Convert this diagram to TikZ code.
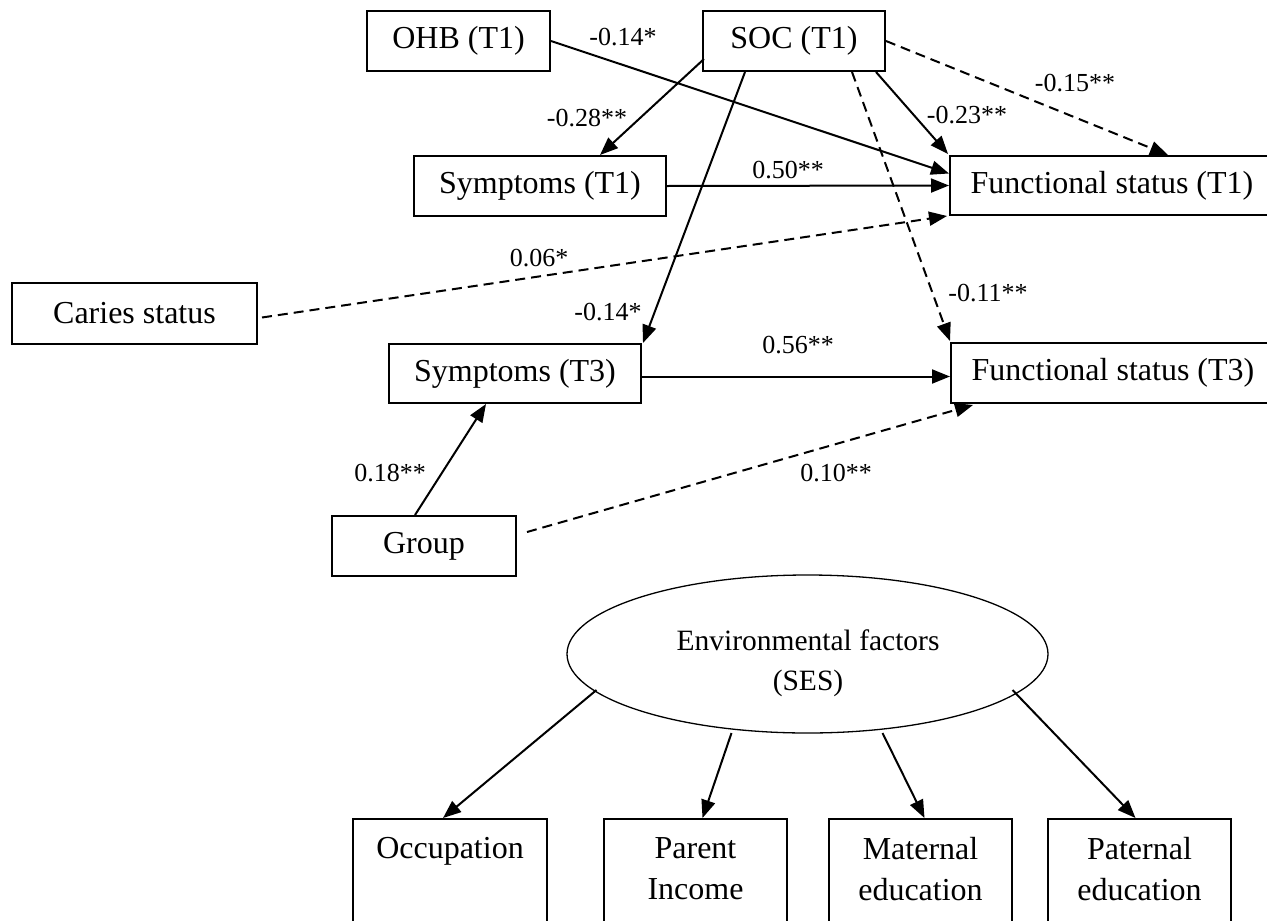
\documentclass[tikz,border=0pt]{standalone}
\usepackage{fontspec}
\setmainfont{Liberation Serif}
\usetikzlibrary{arrows.meta,calc,shapes.geometric}
\tikzset{
  box/.style={draw, line width=2pt, minimum height=60pt, inner sep=0pt, font=\fontsize{32}{38}\selectfont},
  bbox/.style={draw, line width=2pt, minimum height=150pt, inner sep=0pt},
  btext/.style={inner sep=0pt, align=center, font=\fontsize{32}{41}\selectfont},
  lbl/.style={inner sep=0pt, font=\fontsize{26}{30}\selectfont},
  arr/.style={line width=2pt, -{Triangle[length=18pt,width=14pt]}},
  dsh/.style={arr, dash pattern=on 10pt off 6pt},
}
\begin{document}
\begin{tikzpicture}[x=1pt,y=-1pt]
\clip (0,0) rectangle (1267,921);
\fill[white] (0,0) rectangle (1267,921);
% nodes
\node[box, minimum width=183pt] (ohb) at (458.5,41) {OHB (T1)};
\node[box, minimum width=182pt] (soc) at (794,41) {SOC (T1)};
\node[box, minimum width=252pt] (symT1) at (540,186) {Symptoms (T1)};
\node[box, minimum width=324pt, minimum height=59pt] (fsT1) at (1112,185.5) {Functional status (T1)};
\node[box, minimum width=245pt, minimum height=61pt] (caries) at (134.5,313.5) {Caries status};
\node[box, minimum width=252pt, minimum height=59pt] (symT3) at (515,373.5) {Symptoms (T3)};
\node[box, minimum width=324pt] (fsT3) at (1113,373) {Functional status (T3)};
\node[box, minimum width=184pt] (group) at (424,546) {Group};
\node[draw, ellipse, line width=1.3pt, minimum width=481pt, minimum height=158pt, inner sep=0pt] (ses) at (807.5,654) {};
\node[inner sep=0pt, font=\fontsize{29.5}{40}\selectfont, align=center] (sesT) at (808,663) {Environmental factors\\(SES)};
\node[bbox, minimum width=194pt] (occ) at (450,894) {};
\node[bbox, minimum width=183pt] (par) at (695.5,894) {};
\node[bbox, minimum width=183pt] (mat) at (920.5,894) {};
\node[bbox, minimum width=183pt] (pat) at (1139.5,894) {};
\node[btext] (occT) at ($(occ.north)+(0,33)$) {Occupation};
\node[btext] (parT) at ($(par.north)+(0,51)$) {Parent\\Income};
\node[btext] (matT) at ($(mat.north)+(0,51)$) {Maternal\\education};
\node[btext] (patT) at ($(pat.north)+(0,51)$) {Paternal\\education};
% connectors
\draw[arr] (ohb.east) -- ($(fsT1.west)+(0,-12)$);
\draw[arr] ($(soc.west)+(2,18)$) -- ($(symT1.north)+(60,0)$);
\draw[arr] ($(soc.south)+(-49,0)$) -- ($(symT3.north east)+(1,0)$);
\draw[arr] ($(soc.south east)+(-10,0)$) -- ($(fsT1.north west)+(-1,-1)$);
\draw[dsh] (soc.east) -- ($(fsT1.north)+(56,0)$);
\draw[dsh] ($(soc.south)+(58,0)$) -- ($(fsT3.north west)+(0,-1)$);
\draw[arr] (symT1.east) -- (fsT1.west);
\draw[dsh] ($(caries.east)+(4,4)$) -- ($(fsT1.south west)+(-2,0)$);
\draw[arr] ($(symT3.east)+(0,3)$) -- ($(fsT3.west)+(0,3.5)$);
\draw[arr] ($(group.north)+(-9,0)$) -- ($(symT3.south)+(-29,0)$);
\draw[dsh] ($(group.east)+(10,-14)$) -- ($(fsT3.south west)+(23,1)$);
\draw[arr] ($(ses)+(-211,36)$) -- ($(occ.north)+(-7,0)$);
\draw[arr] ($(ses)+(-76,79)$) -- ($(par.north)+(7,0)$);
\draw[arr] ($(ses)+(75,79)$) -- ($(mat.north)+(4,0)$);
\draw[arr] ($(ses)+(205,36)$) -- ($(pat.north)+(-4,0)$);
% labels
\node[lbl] (l1) at (623,37) {-0.14*};
\node[lbl] (l2) at (587,118) {-0.28**};
\node[lbl] (l3) at (788,170) {0.50**};
\node[lbl] (l4) at (967,115) {-0.23**};
\node[lbl] (l5) at (1075,83) {-0.15**};
\node[lbl] (l6) at (539,258) {0.06*};
\node[lbl] (l7) at (608,312) {-0.14*};
\node[lbl] (l8) at (988,293) {-0.11**};
\node[lbl] (l9) at (798,345) {0.56**};
\node[lbl] (l10) at (390,473) {0.18**};
\node[lbl] (l11) at (836,473) {0.10**};
\end{tikzpicture}
\end{document}
